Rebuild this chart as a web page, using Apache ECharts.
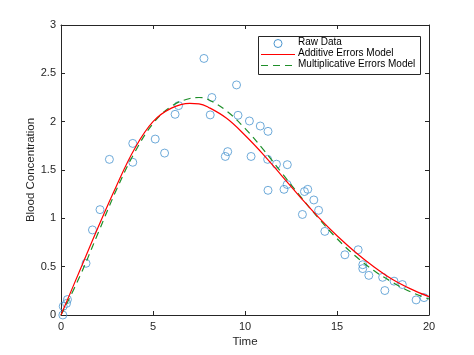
<!DOCTYPE html>
<html>
<head>
<meta charset="utf-8">
<script src="https://cdn.jsdelivr.net/npm/echarts@6/dist/echarts.min.js"></script>
<style>
html,body{margin:0;padding:0;background:#fff;}
#c{width:474px;height:355px;}
</style>
</head>
<body>
<div id="c"></div>
<script>
// Raw data (time, concentration)
var rawTime = [0.10,0.12,0.30,0.35,1.36,1.71,2.12,2.63,3.90,3.90,5.12,5.63,6.20,6.39,7.77,8.11,8.20,8.93,9.06,9.54,9.62,10.24,10.33,10.83,11.25,11.23,11.71,12.30,11.25,12.12,12.29,13.12,13.23,13.41,13.74,14.00,14.34,15.43,16.15,16.40,16.40,16.73,17.48,17.60,18.10,18.55,19.30,19.73];
var rawConc = [0.00,0.09,0.12,0.16,0.535,0.88,1.09,1.61,1.775,1.58,1.82,1.675,2.076,2.166,2.654,2.07,2.25,1.64,1.69,2.38,2.066,2.007,1.64,1.955,1.90,1.61,1.56,1.555,1.29,1.30,1.35,1.04,1.277,1.30,1.19,1.083,0.865,0.623,0.675,0.52,0.48,0.41,0.39,0.253,0.35,0.315,0.156,0.18];
// Fitted curves
var fitTime = [0,1,2,3,4,5,6,7,7.5,8,9,10,11,12,13,14,15,16,17,18,19,20];
var additiveFit = [0,0.45,0.90,1.33,1.72,2.00,2.14,2.19,2.185,2.15,2.035,1.86,1.66,1.44,1.22,1.01,0.82,0.65,0.50,0.37,0.27,0.19];
var multiplicativeFit = [0,0.39,0.84,1.29,1.68,1.98,2.16,2.24,2.25,2.23,2.11,1.93,1.71,1.47,1.23,1.00,0.79,0.61,0.46,0.34,0.24,0.165];
var xTicks = [0,5,10,15,20];
var yTicks = [0,0.5,1,1.5,2,2.5,3];
var seriesNames = ['Raw Data','Additive Errors Model','Multiplicative Errors Model'];

function pairs(xs, ys){ return xs.map(function(x,i){ return [x, ys[i]]; }); }

var axisCol = '#262626';
var font = 'Liberation Sans, Arial, sans-serif';
var blue = '#4a95cf', red = '#ff0000', green = '#1f8f2a';
var chart = echarts.init(document.getElementById('c'), null, {renderer:'canvas'});
var gridPos = {left:61, right:45, top:25, bottom:40};

function xAx(pos, showLabels){
  return {
    type:'value', position:pos, min:xTicks[0], max:xTicks[xTicks.length-1], interval:5,
    axisLine:{show:true, onZero:false, lineStyle:{color:axisCol, width:1}},
    axisTick:{show:true, inside:true, length:4, lineStyle:{color:axisCol}},
    axisLabel:{show:showLabels, color:axisCol, fontSize:11, fontFamily:font, margin:6},
    splitLine:{show:false},
    name: showLabels ? 'Time' : '', nameLocation:'middle', nameGap:21, nameMoveOverlap:false,
    nameTextStyle:{color:axisCol, fontSize:11.5, fontFamily:font}
  };
}
function yAx(pos, showLabels){
  return {
    type:'value', position:pos, min:yTicks[0], max:yTicks[yTicks.length-1], interval:0.5,
    axisLine:{show:true, onZero:false, lineStyle:{color:axisCol, width:1}},
    axisTick:{show:true, inside:true, length:4, lineStyle:{color:axisCol}},
    axisLabel:{show:showLabels, color:axisCol, fontSize:11, fontFamily:font, margin:5},
    splitLine:{show:false},
    name: showLabels ? 'Blood Concentration' : '', nameLocation:'middle', nameGap:24, nameMoveOverlap:false,
    nameTextStyle:{color:axisCol, fontSize:11.5, fontFamily:font}
  };
}

// legend drawn as graphic (layout only, no data)
var lg = {x:258, y:36, w:162, h:38};
var rowY = [43.5, 54.5, 65.5];
var legendGraphic = [
  {type:'rect', left:lg.x, top:lg.y, shape:{width:lg.w, height:lg.h}, style:{fill:'#fff', stroke:axisCol, lineWidth:1}, z:100},
  {type:'circle', shape:{cx:278, cy:rowY[0], r:4}, style:{fill:'none', stroke:blue, lineWidth:1}, z:101},
  {type:'line', shape:{x1:261, y1:rowY[1], x2:295, y2:rowY[1]}, style:{stroke:red, lineWidth:1.2}, z:101},
  {type:'line', shape:{x1:261, y1:rowY[2], x2:295, y2:rowY[2]}, style:{stroke:green, lineWidth:1.2, lineDash:[7,5]}, z:101}
];
seriesNames.forEach(function(n, i){
  legendGraphic.push({type:'text', left:298, top:rowY[i]-6, style:{text:n, fill:'#000', font:'10px ' + font}, z:101});
});

chart.setOption({
  animation:false,
  backgroundColor:'#ffffff',
  grid: gridPos,
  xAxis:[xAx('bottom', true), xAx('top', false)],
  yAxis:[yAx('left', true), yAx('right', false)],
  graphic: legendGraphic,
  series:[
    {
      name:seriesNames[0], type:'scatter', data:pairs(rawTime, rawConc),
      symbol:'circle', symbolSize:8,
      itemStyle:{color:'rgba(0,0,0,0)', borderColor:blue, borderWidth:1},
      z:2
    },
    {
      name:seriesNames[1], type:'line', data:pairs(fitTime, additiveFit),
      smooth:0.4, showSymbol:false, symbol:'none',
      lineStyle:{color:red, width:1.2}, z:4
    },
    {
      name:seriesNames[2], type:'line', data:pairs(fitTime, multiplicativeFit),
      smooth:0.4, showSymbol:false, symbol:'none',
      lineStyle:{color:green, width:1.2, type:[7,5]}, z:3
    }
  ]
});
</script>
</body>
</html>
